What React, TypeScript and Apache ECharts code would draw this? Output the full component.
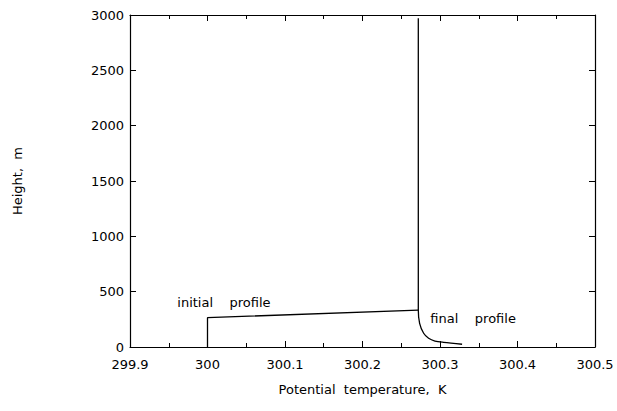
import React, { useEffect, useRef } from "react";
import * as echarts from "echarts";

// Potential temperature (K) vs height (m)
const initialTheta = [300.0, 300.0, 300.272];
const initialHeight = [0, 265, 334];

const finalTheta = [300.272, 300.272, 300.2737, 300.2789, 300.2853, 300.2935, 300.3047, 300.3285];
const finalHeight = [2970, 334, 214, 124, 79, 54, 42, 25];

const xTicks = { min: 299.9, max: 300.5, interval: 0.1 };
const yTicks = { min: 0, max: 3000, interval: 500 };

const labelTexts = ["initial\u00a0\u00a0\u00a0\u00a0profile", "final\u00a0\u00a0\u00a0\u00a0profile"];
const labelTheta = [299.961, 300.2875];
const labelHeight = [406, 262];

const FONT = "DejaVu Sans";

export default function App() {
  const ref = useRef<HTMLDivElement>(null);

  useEffect(() => {
    if (!ref.current) return;
    const chart = echarts.init(ref.current, null, { renderer: "svg" });

    const fmt = (v: number) => String(parseFloat(v.toFixed(1)));
    const tickStyle = { inside: true, length: 6, lineStyle: { color: "#000", width: 1 } };
    const minorStyle = { show: true, splitNumber: 2, length: 4, lineStyle: { color: "#000", width: 1 } };
    const lineStyle = { lineStyle: { color: "#000", width: 1.2 } };
    const textStyle = { fontFamily: FONT, fontSize: 13, color: "#000" };

    const toPairs = (xs: number[], ys: number[]) => xs.map((x, i) => [x, ys[i]]);

    chart.setOption({
      animation: false,
      backgroundColor: "#fff",
      grid: { left: 130, right: 22, top: 15, bottom: 64, containLabel: false },
      xAxis: [
        {
          type: "value",
          ...xTicks,
          name: "Potential\u00a0\u00a0temperature,\u00a0\u00a0K",
          nameLocation: "middle",
          nameGap: 36,
          nameTextStyle: textStyle,
          axisLine: { show: true, onZero: false, ...lineStyle },
          axisTick: tickStyle,
          minorTick: minorStyle,
          splitLine: { show: false },
          axisLabel: { formatter: fmt, ...textStyle, margin: 11 },
        },
        {
          type: "value",
          position: "top",
          ...xTicks,
          axisLine: { show: true, onZero: false, ...lineStyle },
          axisTick: tickStyle,
          minorTick: minorStyle,
          splitLine: { show: false },
          axisLabel: { show: false },
        },
      ],
      yAxis: [
        {
          type: "value",
          ...yTicks,
          name: "Height,\u00a0\u00a0m",
          nameLocation: "middle",
          nameGap: 106,
          nameRotate: 90,
          nameTextStyle: textStyle,
          axisLine: { show: true, onZero: false, ...lineStyle },
          axisTick: tickStyle,
          splitLine: { show: false },
          axisLabel: { formatter: (v: number) => String(v), ...textStyle, margin: 6 },
        },
        {
          type: "value",
          position: "right",
          ...yTicks,
          axisLine: { show: true, onZero: false, ...lineStyle },
          axisTick: tickStyle,
          splitLine: { show: false },
          axisLabel: { show: false },
        },
      ],
      series: [
        {
          name: "initial profile",
          type: "line",
          data: toPairs(initialTheta, initialHeight),
          symbol: "none",
          lineStyle: { color: "#000", width: 1.3 },
        },
        {
          name: "final profile",
          type: "line",
          smooth: 0.3,
          data: toPairs(finalTheta, finalHeight),
          symbol: "none",
          lineStyle: { color: "#000", width: 1.3 },
        },
        {
          name: "labels",
          type: "scatter",
          symbolSize: 0,
          silent: true,
          itemStyle: { opacity: 1 },
          data: labelTheta.map((x, i) => ({ value: [x, labelHeight[i]], name: labelTexts[i] })),
          label: {
            show: true,
            position: "inside",
            formatter: (p: any) => p.name,
            ...textStyle,
            opacity: 1,
            align: "left",
          },
        },
      ],
    });

    return () => chart.dispose();
  }, []);

  return <div ref={ref} style={{ width: 617, height: 411, position: "absolute", left: 0, top: 0 }} />;
}
